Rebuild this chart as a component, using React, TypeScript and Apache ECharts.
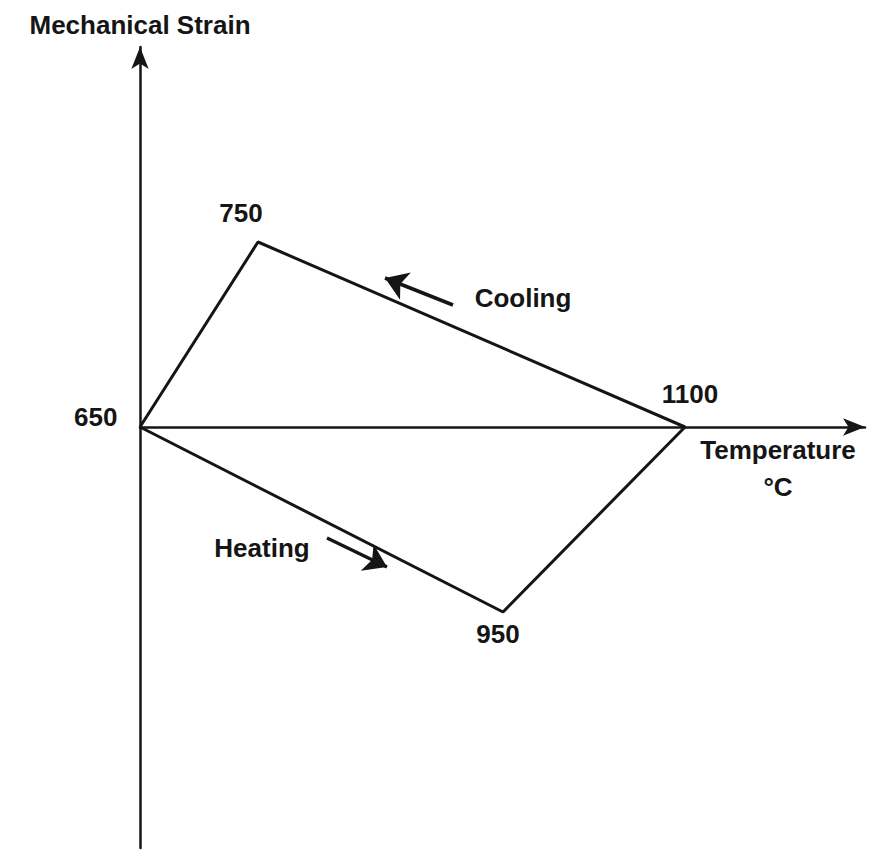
import React, { useEffect, useRef } from "react";
import * as echarts from "echarts";

// Vertices of the strain–temperature loop (abstract chart units: x = temperature position, y = strain)
const vertexLabels = ["650", "750", "1100", "950", "650"];
const vertexX = [0, 118, 545, 363, 0];
const vertexY = [0, 185, 0, -185, 0];

// Direction annotations
const annotationText = ["Cooling", "Heating"];
const annotationX = [383, 122];
const annotationY = [129, -121];

// Direction arrows: [tailX, tailY, tipX, tipY]
const coolingArrow = [313, 122, 245, 149];
const heatingArrow = [187, -111, 247, -140];

const axisXName = "Temperature\n°C";
const axisYName = "Mechanical Strain";

const FONT = "Liberation Sans, Arial, Helvetica, sans-serif";
const INK = "#151515";

export default function App() {
  const ref = useRef<HTMLDivElement>(null);

  useEffect(() => {
    if (!ref.current) return;
    const chart = echarts.init(ref.current, null, { renderer: "svg" });

    const labelCfg = [
      { position: "left", distance: 22, offset: [0, -10] },
      { position: "top", distance: 16, offset: [-17, 0] },
      { position: "top", distance: 20, offset: [5, 0] },
      { position: "bottom", distance: 8, offset: [-5, 0] },
      { show: false },
    ];

    const textBase = {
      fontFamily: FONT,
      fontSize: 26,
      fontWeight: "bold",
      color: INK,
    };

    const loopData = vertexX.map((x, i) => ({
      value: [x, vertexY[i]],
      name: vertexLabels[i],
      label: {
        show: true,
        formatter: vertexLabels[i],
        ...textBase,
        ...(labelCfg[i] as any),
      },
    }));

    const annData = annotationX.map((x, i) => ({
      value: [x, annotationY[i]],
      name: annotationText[i],
    }));

    const arrows = [coolingArrow, heatingArrow].map((a) => ({
      coords: [
        [a[0], a[1]],
        [a[2], a[3]],
      ],
    }));

    chart.setOption({
      animation: false,
      backgroundColor: "#ffffff",
      textStyle: { fontFamily: FONT },
      grid: { left: 140, right: 8, top: 47, bottom: 3, containLabel: false },
      xAxis: {
        type: "value",
        min: 0,
        max: 725,
        name: axisXName,
        nameLocation: "end",
        nameGap: -87,
        nameTextStyle: {
          ...textBase,
          align: "center",
          verticalAlign: "top",
          lineHeight: 37,
          padding: [4, 0, 0, 0],
        },
        axisLine: {
          onZero: true,
          symbol: ["none", "arrow"],
          symbolSize: [13, 22],
          lineStyle: { color: INK, width: 2.5 },
        },
        axisTick: { show: false },
        axisLabel: { show: false },
        splitLine: { show: false },
      },
      yAxis: {
        type: "value",
        min: -421,
        max: 380,
        name: axisYName,
        nameLocation: "end",
        nameGap: 9,
        nameTextStyle: {
          ...textBase,
          align: "center",
        },
        axisLine: {
          onZero: false,
          symbol: ["none", "arrow"],
          symbolSize: [13, 22],
          lineStyle: { color: INK, width: 2.5 },
        },
        axisTick: { show: false },
        axisLabel: { show: false },
        splitLine: { show: false },
      },
      series: [
        {
          type: "line",
          data: loopData,
          symbol: "circle",
          symbolSize: 1,
          showSymbol: true,
          itemStyle: { color: "transparent", borderWidth: 0 },
          lineStyle: { color: INK, width: 3 },
          label: { show: true, ...textBase },
          z: 3,
        },
        {
          type: "scatter",
          data: annData,
          symbol: "circle",
          symbolSize: 1,
          itemStyle: { color: "transparent", opacity: 1 },
          label: {
            show: true,
            position: "inside",
            formatter: (p: any) => p.name,
            ...textBase,
          },
        },
        {
          type: "lines",
          coordinateSystem: "cartesian2d",
          data: arrows,
          symbol: ["none", "arrow"],
          symbolSize: [14, 22],
          lineStyle: { color: INK, width: 3.5, opacity: 1 },
        },
      ],
    });

    return () => chart.dispose();
  }, []);

  return (
    <div
      ref={ref}
      style={{ position: "fixed", left: 0, top: 0, width: 873, height: 851 }}
    />
  );
}
